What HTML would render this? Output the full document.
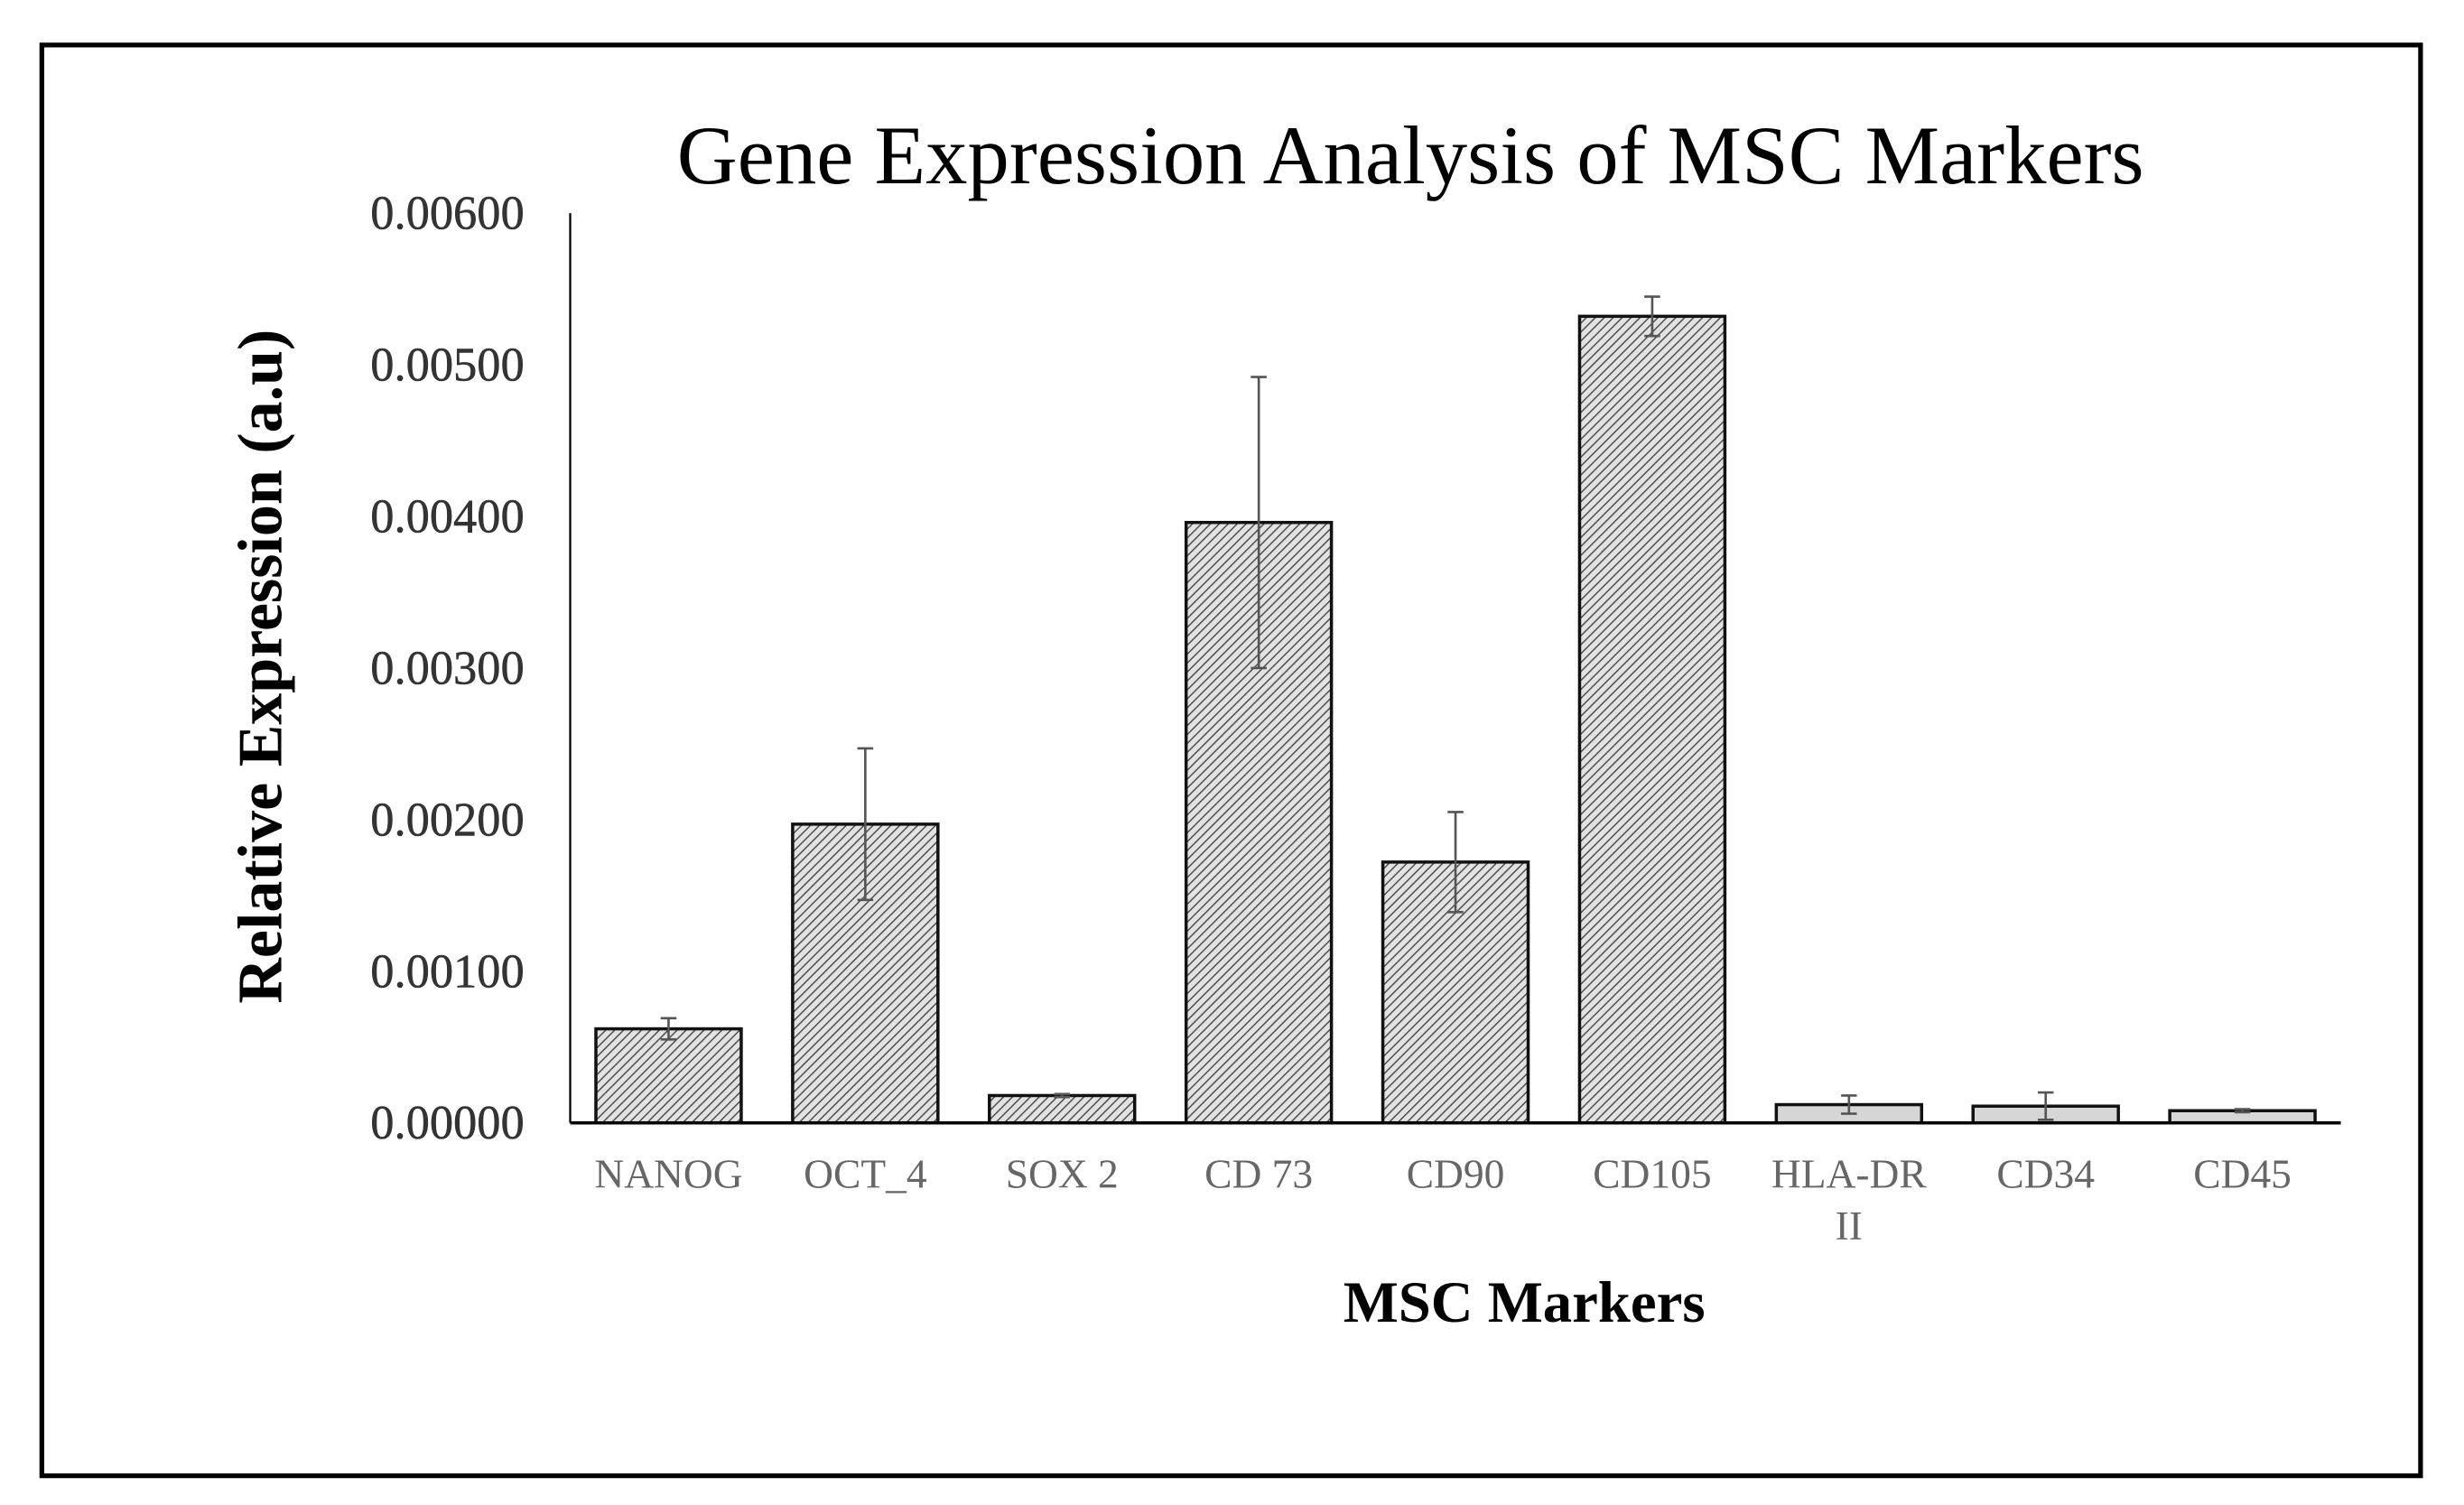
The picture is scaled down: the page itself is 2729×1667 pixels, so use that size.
<!DOCTYPE html>
<html><head><meta charset="utf-8"><style>
html,body{margin:0;padding:0;background:#fff;}
svg{display:block;}
</style></head><body>
<svg id="chart" width="2729" height="1667" viewBox="0 0 1560 953" preserveAspectRatio="none" xmlns="http://www.w3.org/2000/svg">
<defs>
<pattern id="hatch" patternUnits="userSpaceOnUse" width="4" height="4" patternTransform="rotate(45)">
<rect width="4" height="4" fill="#e2e2e2"/>
<line x1="0" y1="0" x2="0" y2="4" stroke="#444" stroke-width="1.6"/>
</pattern>
</defs>
<rect x="26.5" y="28.5" width="1506" height="906" fill="none" stroke="#000" stroke-width="3"/>
<text x="893" y="116" text-anchor="middle" font-family="Liberation Serif, serif" font-size="53">Gene Expression Analysis of MSC Markers</text>
<g id="plot"></g>
<text transform="translate(178,422) rotate(-90)" text-anchor="middle" font-family="Liberation Serif, serif" font-weight="bold" font-size="40">Relative Expression (a.u)</text>
<text x="965" y="837" text-anchor="middle" font-family="Liberation Serif, serif" font-weight="bold" font-size="37">MSC Markers</text>
</svg>
<script>
const categories = ["NANOG","OCT_4","SOX 2","CD 73","CD90","CD105","HLA-DR|II","CD34","CD45"];
const values = [0.00062,0.00197,0.00018,0.00396,0.00172,0.00532,0.00012,0.00011,0.00008];
const errors = [0.00007,0.0005,0.00001,0.00096,0.00033,0.00013,0.00006,0.00009,0.00001];
const hatched = [true,true,true,true,true,true,false,false,false];
const yTicks = [0,0.001,0.002,0.003,0.004,0.005,0.006];
const yTickLabels = ["0.00000","0.00100","0.00200","0.00300","0.00400","0.00500","0.00600"];

const NS="http://www.w3.org/2000/svg";
const g=document.getElementById('plot');
const x0=361,x1=1482,yBase=711,yTop=135,yMax=0.006;
const y=v=>yBase-(v/yMax)*(yBase-yTop);
const step=(x1-x0)/categories.length;
const xc=i=>x0+step*(i+0.5);
const bw=92;
function mk(t,a){const e=document.createElementNS(NS,t);for(const k in a)e.setAttribute(k,a[k]);g.appendChild(e);return e;}

yTicks.forEach((t,i)=>{
  const e=mk('text',{x:332,y:y(t)+10,'text-anchor':'end','font-family':'Liberation Serif, serif','font-size':30,fill:'#333',stroke:'#333','stroke-width':0.3});
  
  
  e.textContent=yTickLabels[i];
});
const ya=mk('line',{x1:x0,y1:yTop,x2:x0,y2:yBase,stroke:'#000','stroke-width':1.3});



values.forEach((v,i)=>{
  const cx=xc(i);
  const r=mk('rect',{x:cx-bw/2,y:y(v),width:bw,height:yBase-y(v),fill:hatched[i]?'url(#hatch)':'#d6d6d6',stroke:'#111','stroke-width':2});
  
  
  const hi=y(v+errors[i]),lo=y(Math.max(0,v-errors[i]));
  const eb=mk('path',{d:`M${cx},${hi}V${lo}M${cx-5},${hi}H${cx+5}M${cx-5},${lo}H${cx+5}`,stroke:'#555','stroke-width':1.5,fill:'none'});
  
  
  const lines=categories[i].split('|');
  lines.forEach((s,j)=>{
    const t=mk('text',{x:cx,y:752+j*33,'text-anchor':'middle','font-family':'Liberation Serif, serif','font-size':26,fill:'#666'});
    
    
    t.textContent=s;
  });
});
const xa=mk('line',{x1:x0,y1:yBase,x2:x1,y2:yBase,stroke:'#000','stroke-width':2});


</script>
</body></html>
